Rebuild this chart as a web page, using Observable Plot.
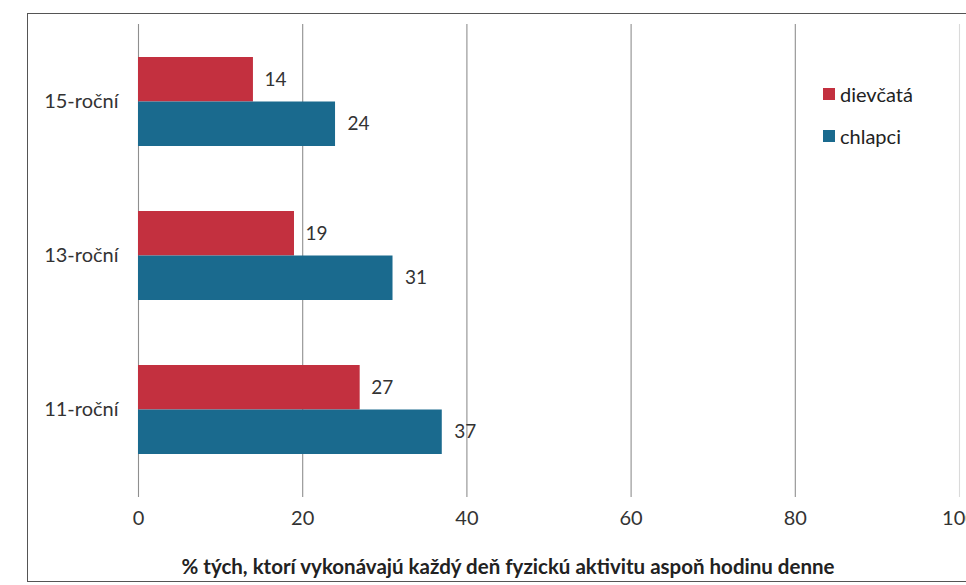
<!DOCTYPE html>
<html>
<head>
<meta charset="utf-8">
<script src="https://cdn.jsdelivr.net/npm/d3@7"></script>
<script src="https://cdn.jsdelivr.net/npm/@observablehq/plot@0.6"></script>
<style>
  html, body { margin: 0; padding: 0; background: #fff; overflow: hidden; }
  #wrap { position: relative; width: 966px; height: 585px; font-family: Lato, "Open Sans", sans-serif; }
  #border { position: absolute; left: 27px; top: 13px; width: 1000px; height: 569px; border: 1.5px solid #555; box-sizing: border-box; }
  #chart { position: absolute; left: 0; top: 0; }
  #legend { position: absolute; left: 823px; top: 82px; font-size: 20px; color: #222; }
  #legend .row { display: flex; align-items: center; height: 24px; margin-bottom: 18px; }
  #legend .sw { width: 12px; height: 12px; margin-right: 5px; }
</style>
</head>
<body>
<div id="wrap">
  <div id="border"></div>
  <div id="chart"></div>
  <div id="legend"></div>
</div>
<script>
const categories = ["15-roční", "13-roční", "11-roční"];
const series = ["dievčatá", "chlapci"];
const dievcata = [14, 19, 27];
const chlapci = [24, 31, 37];
const xTicks = [0, 20, 40, 60, 80, 100];
const xTitle = "% tých, ktorí vykonávajú každý deň fyzickú aktivitu aspoň hodinu denne";
const colors = ["#C3303F", "#1A6A8E"];

const girls = categories.map((c, i) => ({age: c, sex: series[0], value: dievcata[i]}));
const boys = categories.map((c, i) => ({age: c, sex: series[1], value: chlapci[i]}));

const half = 44.5;
const chart = Plot.plot({
  width: 966,
  height: 585,
  marginLeft: 138,
  marginRight: 7,
  marginTop: 24,
  marginBottom: 97,
  style: {fontFamily: "Lato, 'Open Sans', sans-serif", fontSize: "20px", color: "#333", background: "transparent"},
  x: {domain: [0, 100], ticks: xTicks, tickSize: 0, tickPadding: 22, label: null},
  y: {domain: categories, paddingInner: 0.42, paddingOuter: 0.21, tickSize: 0, tickPadding: 20, label: null},
  marks: [
    Plot.ruleY([0], {frameAnchor: "bottom", stroke: "#d4d4d4", strokeWidth: 1.5}),
    Plot.ruleX(xTicks.filter(d => d < 100), {stroke: "#8f8f8f", strokeWidth: 1.1, insetBottom: -9}),
    Plot.ruleX(xTicks.filter(d => d === 100), {stroke: "#dadada", strokeWidth: 1.1, insetBottom: -9}),
    Plot.barX(girls, {x: "value", y: "age", fill: colors[0], insetBottom: half}),
    Plot.barX(boys, {x: "value", y: "age", fill: colors[1], insetTop: half}),
    Plot.text(girls, {x: "value", y: "age", text: d => String(d.value), textAnchor: "start", dx: 11, dy: -22, fill: "#333", fontSize: 19}),
    Plot.text(boys, {x: "value", y: "age", text: d => String(d.value), textAnchor: "start", dx: 12, dy: 22, fill: "#333", fontSize: 19}),
    Plot.text([xTitle], {frameAnchor: "bottom", dy: 85, dx: -41, fontWeight: "bold", fontSize: 20.5, fill: "#222"})
  ]
});
document.getElementById("chart").appendChild(chart);

const legend = document.getElementById("legend");
series.forEach((s, i) => {
  const row = document.createElement("div");
  row.className = "row";
  const sw = document.createElement("div");
  sw.className = "sw";
  sw.style.background = colors[i];
  const lab = document.createElement("span");
  lab.textContent = s;
  row.appendChild(sw);
  row.appendChild(lab);
  legend.appendChild(row);
});
</script>
</body>
</html>
